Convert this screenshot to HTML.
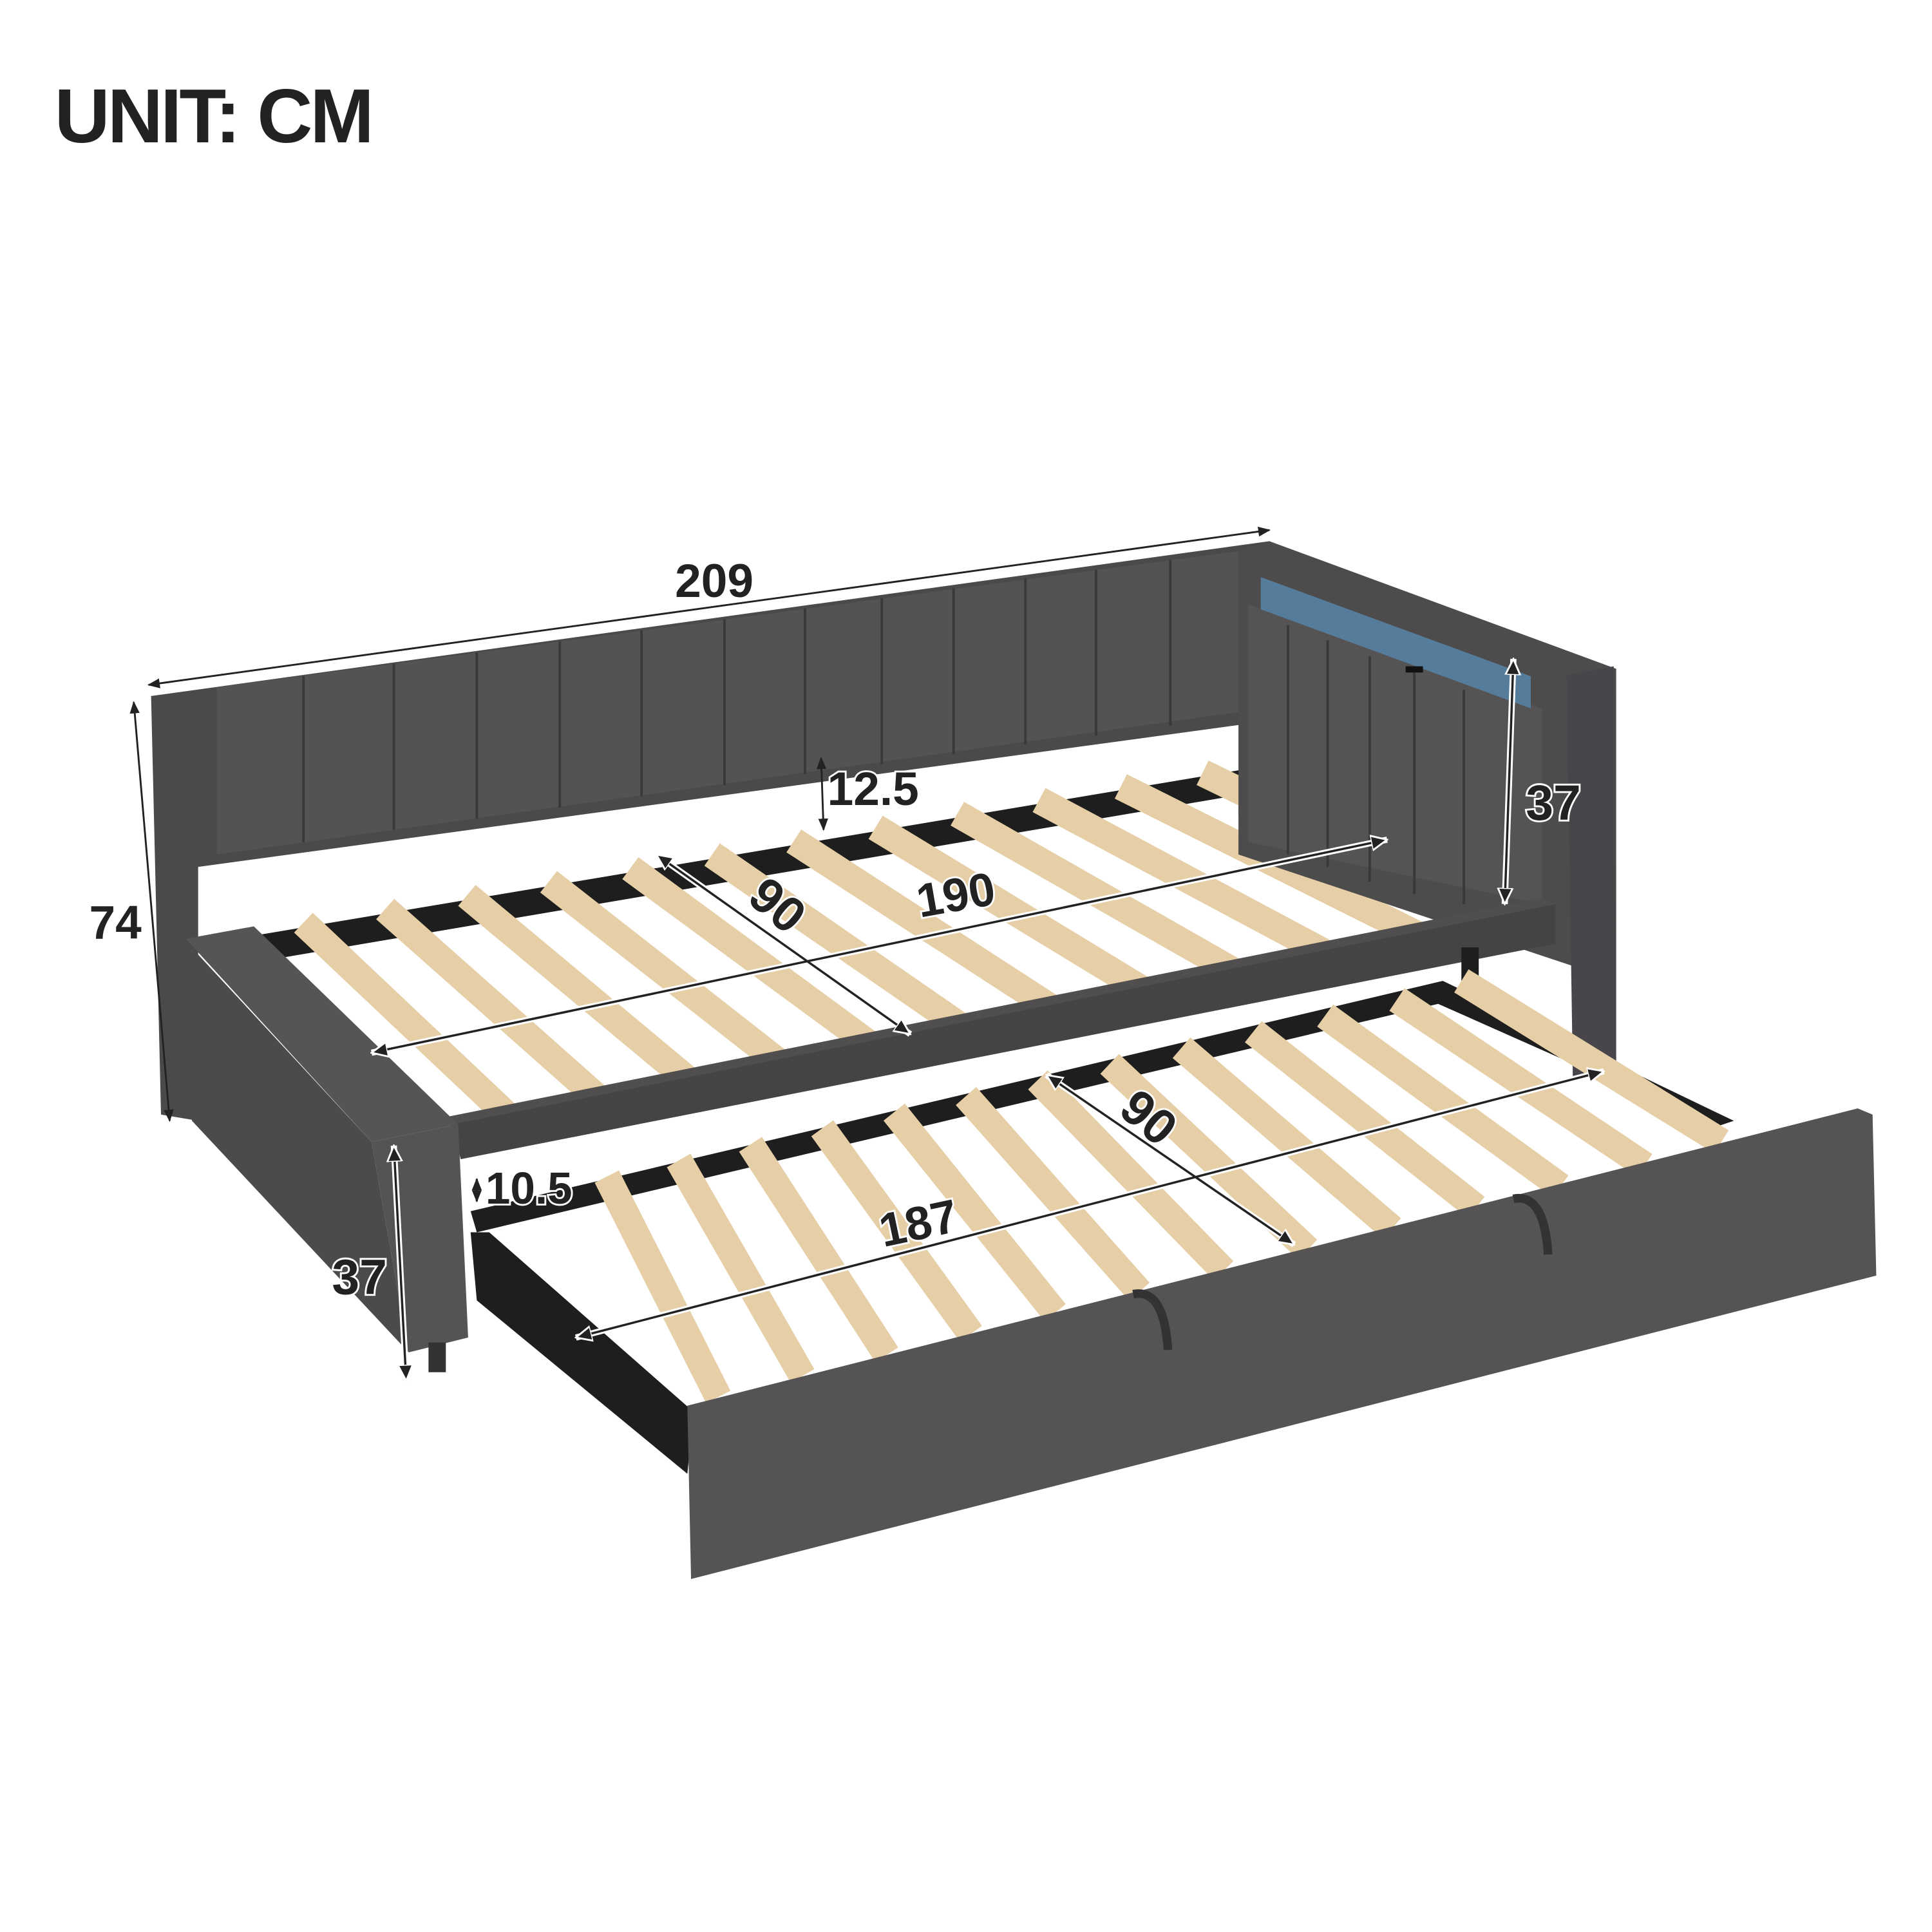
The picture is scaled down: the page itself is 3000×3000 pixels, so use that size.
<!DOCTYPE html>
<html><head><meta charset="utf-8"><style>
html,body{margin:0;padding:0;background:#fff;}
svg{display:block;}
.lbl{font-family:"Liberation Sans",sans-serif;font-weight:bold;fill:#222;stroke:#fff;stroke-width:3;paint-order:stroke;}
</style></head><body>
<svg width="3000" height="3000" viewBox="0 0 1560 1560" xmlns="http://www.w3.org/2000/svg">
<defs>
<marker id="ar" markerWidth="10" markerHeight="10" refX="9" refY="5" orient="auto-start-reverse" markerUnits="userSpaceOnUse"><path d="M0,1 L10,5 L0,9 z" fill="#222"/></marker>
<marker id="arw" markerWidth="14" markerHeight="14" refX="13" refY="7" orient="auto-start-reverse" markerUnits="userSpaceOnUse"><path d="M0,1 L13,7 L0,13 z" fill="#222" stroke="#fff" stroke-width="1.5"/></marker>
</defs>
<rect width="1560" height="1560" fill="#fff"/>
<text x="44" y="115" font-family="Liberation Sans,sans-serif" font-weight="bold" font-size="62" fill="#222" textLength="258">UNIT: CM</text>

<!-- main bed back black rail -->
<polygon points="190,758 1000,622 1000,642 200,778" fill="#1e1e1e"/>
<polygon points="1000,622 1240,720 1245,742 1000,660" fill="#1e1e1e"/>
<!-- main slats -->
<g stroke="#e6cfa6" stroke-width="22" stroke-linecap="butt">
<line x1="245" y1="745" x2="425" y2="915"/>
<line x1="311" y1="734" x2="497" y2="899"/>
<line x1="377" y1="723" x2="569" y2="883"/>
<line x1="443" y1="712" x2="641" y2="867"/>
<line x1="509" y1="701" x2="713" y2="851"/>
<line x1="575" y1="690" x2="785" y2="835"/>
<line x1="641" y1="679" x2="857" y2="819"/>
<line x1="707" y1="668" x2="929" y2="803"/>
<line x1="773" y1="657" x2="1001" y2="787"/>
<line x1="839" y1="646" x2="1073" y2="771"/>
<line x1="905" y1="635" x2="1145" y2="755"/>
<line x1="971" y1="624" x2="1210" y2="740"/>
</g>
<!-- backrest -->
<polygon points="122,562 1025,437 1025,582 160,700 160,905 130,900" fill="#4b494a"/>
<polygon points="175,555 1000,445 1000,575 175,690" fill="#545253"/>
<g stroke="#3a3839" stroke-width="2">
<line x1="245" y1="546" x2="245" y2="680"/><line x1="318" y1="536" x2="318" y2="670"/>
<line x1="385" y1="527" x2="385" y2="661"/><line x1="452" y1="518" x2="452" y2="652"/>
<line x1="518" y1="509" x2="518" y2="643"/><line x1="585" y1="500" x2="585" y2="634"/>
<line x1="650" y1="491" x2="650" y2="625"/><line x1="712" y1="483" x2="712" y2="617"/>
<line x1="770" y1="475" x2="770" y2="609"/><line x1="828" y1="467" x2="828" y2="601"/>
<line x1="885" y1="460" x2="885" y2="594"/><line x1="945" y1="452" x2="945" y2="586"/>
</g>
<!-- right arm -->
<polygon points="1000,445 1025,437 1305,540 1305,860 1270,870 1270,780 1000,690" fill="#4d4b4c"/>
<polygon points="1265,545 1303,538 1305,860 1270,870" fill="#48464a"/>
<polygon points="1008,488 1245,572 1245,730 1008,680" fill="#555354"/>
<polygon points="1018,466 1236,546 1236,572 1018,492" fill="#557d9b"/>
<g stroke="#3a3839" stroke-width="2">
<line x1="1040" y1="505" x2="1040" y2="690"/><line x1="1072" y1="517" x2="1072" y2="700"/>
<line x1="1106" y1="530" x2="1106" y2="712"/><line x1="1142" y1="543" x2="1142" y2="722"/>
<line x1="1182" y1="557" x2="1182" y2="730"/>
</g>
<rect x="1135" y="538" width="14" height="5" fill="#111"/>
<!-- front rail -->
<polygon points="355,903 1245,725 1256,730 365,910" fill="#504e4f"/>
<polygon points="365,908 1256,730 1256,762 372,936" fill="#454344"/>
<rect x="1180" y="765" width="14" height="50" fill="#1e1e1e"/>
<!-- trundle black frame -->
<polygon points="380,978 1165,792 1172,808 385,995" fill="#1e1e1e"/>
<polygon points="380,995 395,995 560,1140 555,1190 385,1050" fill="#1e1e1e"/>
<polygon points="1165,792 1400,905 1385,910 1160,810" fill="#1e1e1e"/>
<!-- trundle slats -->
<g stroke="#e6cfa6" stroke-width="22">
<line x1="490" y1="950" x2="580" y2="1128"/>
<line x1="548" y1="937" x2="648" y2="1111"/>
<line x1="606" y1="924" x2="716" y2="1094"/>
<line x1="664" y1="911" x2="784" y2="1077"/>
<line x1="722" y1="898" x2="852" y2="1060"/>
<line x1="780" y1="885" x2="920" y2="1043"/>
<line x1="838" y1="872" x2="988" y2="1026"/>
<line x1="896" y1="859" x2="1056" y2="1009"/>
<line x1="954" y1="846" x2="1124" y2="992"/>
<line x1="1012" y1="833" x2="1192" y2="975"/>
<line x1="1070" y1="820" x2="1260" y2="958"/>
<line x1="1128" y1="807" x2="1328" y2="941"/>
<line x1="1180" y1="792" x2="1390" y2="922"/>
</g>
<!-- trundle front panel -->
<polygon points="555,1135 1500,895 1512,900 1515,1030 558,1275" fill="#555354"/>
<path d="M915,1045 q25,-5 28,45 M1222,968 q25,-5 28,45" stroke="#333" stroke-width="7" fill="none"/>
<!-- left arm -->
<polygon points="150,758 205,748 370,908 300,922" fill="#565455"/>
<polygon points="150,760 300,922 330,1092 155,905" fill="#4c4a4b"/>
<polygon points="300,922 370,908 378,1080 330,1092" fill="#555354"/>
<rect x="346" y="1084" width="14" height="24" fill="#333"/>

<!-- dimension lines -->
<g stroke="#222" stroke-width="1.5" fill="none">
<line x1="120" y1="553" x2="1025" y2="428" marker-start="url(#ar)" marker-end="url(#ar)"/>
<line x1="108" y1="567" x2="137" y2="905" marker-start="url(#ar)" marker-end="url(#ar)"/>
<line x1="663" y1="612" x2="665" y2="670" marker-start="url(#ar)" marker-end="url(#ar)"/>
</g>
<g stroke="#fff" stroke-width="5" fill="none">
<line x1="1222" y1="532" x2="1215" y2="730"/><line x1="530" y1="690" x2="735" y2="835"/>
<line x1="300" y1="850" x2="1120" y2="678"/><line x1="318" y1="925" x2="328" y2="1115"/>
<line x1="845" y1="868" x2="1045" y2="1005"/><line x1="465" y1="1080" x2="1295" y2="865"/>
<line x1="385" y1="950" x2="385" y2="972"/>
</g>
<g stroke="#222" stroke-width="1.8" fill="none">
<line x1="1222" y1="532" x2="1215" y2="730" marker-start="url(#arw)" marker-end="url(#arw)"/>
<line x1="530" y1="690" x2="735" y2="835" marker-start="url(#arw)" marker-end="url(#arw)"/>
<line x1="300" y1="850" x2="1120" y2="678" marker-start="url(#arw)" marker-end="url(#arw)"/>
<line x1="318" y1="925" x2="328" y2="1115" marker-start="url(#arw)" marker-end="url(#arw)"/>
<line x1="845" y1="868" x2="1045" y2="1005" marker-start="url(#arw)" marker-end="url(#arw)"/>
<line x1="465" y1="1080" x2="1295" y2="865" marker-start="url(#arw)" marker-end="url(#arw)"/>
<line x1="385" y1="952" x2="385" y2="970" marker-start="url(#ar)" marker-end="url(#ar)"/>
</g>
<text class="lbl" x="545" y="482" font-size="38">209</text>
<text class="lbl" x="72" y="758" font-size="38">74</text>
<text class="lbl" x="668" y="650" font-size="38">12.5</text>
<text class="lbl" x="1232" y="662" font-size="40">37</text>
<text class="lbl" x="740" y="735" font-size="38" transform="rotate(-10 775 722)">190</text>
<text class="lbl" x="605" y="745" font-size="40" transform="rotate(40 628 732)">90</text>
<text class="lbl" x="268" y="1045" font-size="40">37</text>
<text class="lbl" x="392" y="972" font-size="36">10.5</text>
<text class="lbl" x="903" y="915" font-size="40" transform="rotate(40 925 905)">90</text>
<text class="lbl" x="710" y="1000" font-size="38" transform="rotate(-12 745 988)">187</text>
</svg>
</body></html>
